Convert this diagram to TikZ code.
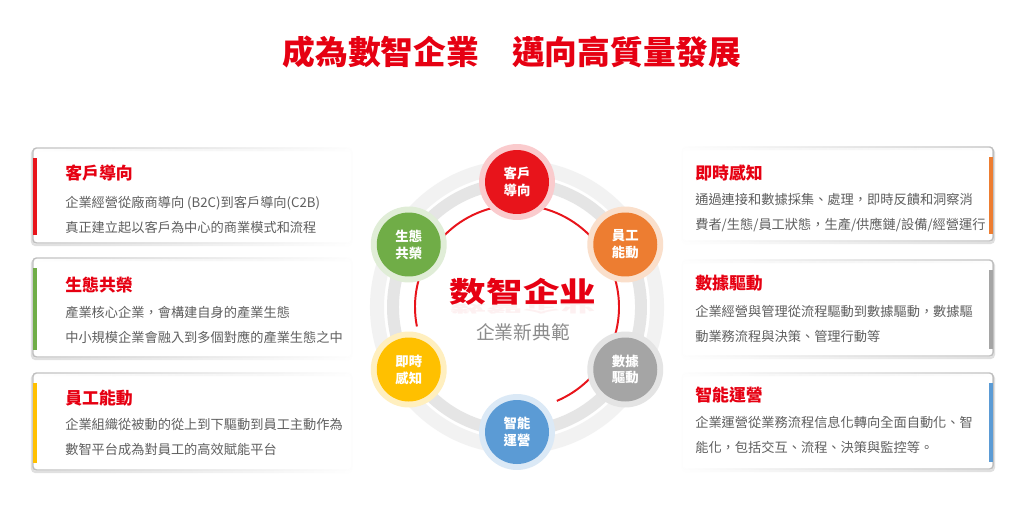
\documentclass[tikz,border=0pt]{standalone}
\usepackage{fontspec}
\newfontfamily\cjk{Noto Sans CJK TC}
\newfontfamily\cjksc{Noto Sans CJK SC}
\usetikzlibrary{calc, positioning}
\usetikzlibrary{fadings}

\definecolor{titlered}{HTML}{E60012}
\definecolor{cred}{HTML}{E8141B}
\definecolor{corange}{HTML}{ED7D31}
\definecolor{cgray}{HTML}{A5A5A5}
\definecolor{cblue}{HTML}{5B9BD5}
\definecolor{cyellow}{HTML}{FFC000}
\definecolor{cgreen}{HTML}{70AD47}
\definecolor{bodygray}{HTML}{5F5F5F}
\definecolor{subgray}{HTML}{8C8C8C}

\tikzfading[name=faderight, left color=transparent!0, middle color=transparent!20, right color=transparent!100]
\tikzfading[name=fadeleft, left color=transparent!100, middle color=transparent!20, right color=transparent!0]

\tikzset{
  hub/.style 2 args={circle, minimum size=45.5pt, inner sep=0pt, fill=#1,
    preaction={draw=#2, line width=8.5pt},
    text=white, align=center, font=\cjk\bfseries\fontsize{9.5}{12}\selectfont},
  boxframe/.style={draw=gray!50, line width=1pt, fill=white, rounded corners=2.5pt},
  boxshadow/.style={draw=gray!25, line width=1.6pt, rounded corners=2.5pt},
  boxtitle/.style={anchor=west, inner sep=0pt, text=titlered,
    font=\cjk\bfseries\fontsize{12}{14}\selectfont},
  boxtext/.style={anchor=west, inner sep=0pt, align=left, text=bodygray,
    font=\cjk\fontsize{9.4}{17.8}\selectfont},
}

\begin{document}
\begin{tikzpicture}[x=0.025cm, y=0.025cm]
\def\rpos{125}
\def\rred{102}

\useasboundingbox[fill=white] (0,0) rectangle (1024,-514);

% Title
\node[text=titlered, font=\cjk\bfseries\fontsize{23.3}{26}\selectfont] (title) at (512,-52)
  {成為數智企業　邁向高質量發展};

% Ring behind the six hubs
\coordinate (O) at (517,-307);
\draw[gray!10, line width=10pt] (O) circle[radius=140];
\draw[gray!20, line width=8.5pt] (O) circle[radius=124];
\draw[cred, line width=1.4pt] ($(O)+(191:\rred)$) arc[start angle=191, end angle=-67, radius=\rred];

% Hubs
\node[hub={cred}{cred!22}]       (kehu)   at ($(O)+(90:\rpos)$)  {客戶\\導向};
\node[hub={corange}{corange!25}] (yuangong) at ($(O)+(30:\rpos)$)  {員工\\能動};
\node[hub={cgray}{cgray!30}]     (shuju)  at ($(O)+(-30:\rpos)$) {數據\\驅動};
\node[hub={cblue}{cblue!22}]     (zhineng) at ($(O)+(-90:\rpos)$) {智能\\運營};
\node[hub={cyellow}{cyellow!25}] (jishi)  at ($(O)+(210:\rpos)$) {即時\\感知};
\node[hub={cgreen}{cgreen!22}]   (shengtai) at ($(O)+(150:\rpos)$) {生態\\共榮};

% Centre text and its reflection
\node[text=titlered, opacity=0.06, font=\cjksc\bfseries\fontsize{20}{22}\selectfont] (brandrefl) at (523,-309)
  {\scalebox{1.3}[-0.4]{数智企业}};
\node[text=titlered, font=\cjksc\bfseries\fontsize{20}{22}\selectfont] (brand) at (523,-292)
  {\scalebox{1.3}[1]{数智企业}};
\node[text=subgray, font=\cjk\fontsize{13.3}{15}\selectfont] (brandsub) at (523,-332) {企業新典範};

% Left boxes
\path[boxshadow, path fading=faderight] (32,-150) rectangle (352,-245);
\path[boxframe, path fading=faderight] (33,-148) rectangle (352,-243);
\fill[cred] (33,-158) rectangle (37,-235);
\node[boxtitle] (t1) at (65,-173) {客戶導向};
\node[boxtext] (d1) at (65,-214.5) {企業經營從廠商導向 (B2C)到客戶導向(C2B)\\真正建立起以客戶為中心的商業模式和流程};

\path[boxshadow, path fading=faderight] (32,-260) rectangle (352,-359);
\path[boxframe, path fading=faderight] (33,-258) rectangle (352,-357);
\fill[cgreen] (33,-268) rectangle (37,-350);
\node[boxtitle] (t2) at (65,-285) {生態共榮};
\node[boxtext] (d2) at (65,-325) {產業核心企業，會構建自身的產業生態\\中小規模企業會融入到多個對應的產業生態之中};

\path[boxshadow, path fading=faderight] (32,-375) rectangle (352,-472);
\path[boxframe, path fading=faderight] (33,-373) rectangle (352,-470);
\fill[cyellow] (33,-383) rectangle (37,-463);
\node[boxtitle] (t3) at (65,-398) {員工能動};
\node[boxtext] (d3) at (65,-436.5) {企業組織從被動的從上到下驅動到員工主動作為\\數智平台成為對員工的高效賦能平台};

% Right boxes
\path[boxshadow, path fading=fadeleft] (682,-149) rectangle (994,-243);
\path[boxframe, path fading=fadeleft] (682,-147) rectangle (993,-241);
\fill[corange] (989,-157) rectangle (993,-234);
\node[boxtitle] (t4) at (695,-173) {即時感知};
\node[boxtext] (d4) at (695,-213) {通過連接和數據採集、處理，即時反饋和洞察消\\費者/生態/員工狀態，生產/供應鏈/設備/經營運行};

\path[boxshadow, path fading=fadeleft] (682,-262) rectangle (994,-358);
\path[boxframe, path fading=fadeleft] (682,-260) rectangle (993,-356);
\fill[cgray] (989,-270) rectangle (993,-349);
\node[boxtitle] (t5) at (695,-283) {數據驅動};
\node[boxtext] (d5) at (695,-323.5) {企業經營與管理從流程驅動到數據驅動，數據驅\\動業務流程與決策、管理行動等};

\path[boxshadow, path fading=fadeleft] (682,-375) rectangle (994,-471);
\path[boxframe, path fading=fadeleft] (682,-373) rectangle (993,-469);
\fill[cblue] (989,-383) rectangle (993,-462);
\node[boxtitle] (t6) at (695,-395) {智能運營};
\node[boxtext] (d6) at (695,-434.5) {企業運營從業務流程信息化轉向全面自動化、智\\能化，包括交互、流程、決策與監控等。};
\end{tikzpicture}
\end{document}
